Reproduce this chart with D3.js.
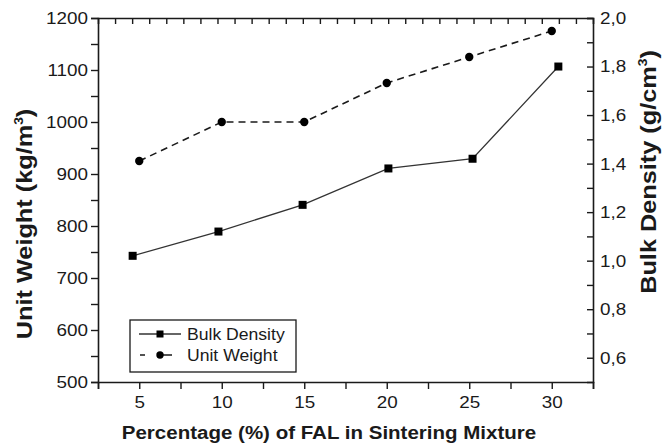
<!DOCTYPE html>
<html>
<head>
<meta charset="utf-8">
<script src="https://cdn.jsdelivr.net/npm/d3@7"></script>
<style>
  html, body { margin: 0; padding: 0; background: #fff; }
  svg { display: block; font-family: "Liberation Sans", Arial, sans-serif; }
</style>
</head>
<body>
<svg id="chart" width="663" height="445"></svg>
<script>
// FAL content in the sintering mixture (%)
const falPercent = [5, 10, 15, 20, 25, 30];
const falPercentBulk = [4.6, 9.8, 14.9, 20.1, 25.2, 30.4];
// Unit weight (kg/m3), left axis
const unitWeight = [925, 1000, 1000, 1075, 1125, 1175];
// Bulk density (g/cm3), right axis
const bulkDensity = [1.02, 1.12, 1.23, 1.38, 1.42, 1.80];

const xTicks = [5, 10, 15, 20, 25, 30];
const leftTicks = [500, 600, 700, 800, 900, 1000, 1100, 1200];
const rightTicks = [0.6, 0.8, 1.0, 1.2, 1.4, 1.6, 1.8, 2.0];

const svg = d3.select("#chart");
const plotL = 98, plotR = 593, plotT = 18, plotB = 382;
const ink = "#1a1a1a";
const wide = 1.11;   // widened label glyphs along the reading direction

const x = d3.scaleLinear().domain([2.5, 32.5]).range([plotL, plotR]);
const yL = d3.scaleLinear().domain([500, 1200]).range([plotB, plotT]);
const yR = d3.scaleLinear().domain([0.5, 2.0]).range([plotB, plotT]);
const xTop = d3.scaleLinear().domain([0, 29]).range([plotL, plotR]);

const comma = d => d3.format(".1f")(d).replace(".", ",");

// bottom axis: outward ticks every 2.5, labels every 5
const gB = svg.append("g").attr("transform", `translate(0,${plotB})`);
gB.call(d3.axisBottom(x).tickValues(d3.range(2.5, 32.51, 2.5)).tickSize(7).tickPadding(7)
  .tickFormat(d => xTicks.includes(d) ? d : ""));
// top axis: inward ticks
const gT = svg.append("g").attr("transform", `translate(0,${plotT})`);
gT.call(d3.axisTop(xTop).tickValues(d3.range(1, 29)).tickSize(-6).tickFormat(""));
// left axis
const gL = svg.append("g").attr("transform", `translate(${plotL},0)`);
gL.call(d3.axisLeft(yL).tickValues(d3.range(500, 1201, 50)).tickSize(7)
  .tickFormat(d => leftTicks.includes(d) ? d : ""));
// right axis: inward ticks
const gR = svg.append("g").attr("transform", `translate(${plotR},0)`);
gR.call(d3.axisRight(yR).tickValues(d3.range(6, 20.1, 1).map(v => v / 10)).tickSize(-6)
  .tickFormat(d => rightTicks.some(t => Math.abs(t - d) < 1e-6) ? comma(d) : ""));

[gB, gT, gL, gR].forEach(g => {
  g.select(".domain").attr("stroke", ink).attr("stroke-width", 1.6);
  g.selectAll(".tick line").attr("stroke", ink).attr("stroke-width", 1.4);
  g.selectAll(".tick text").attr("fill", ink).style("font-size", "17px")
    .attr("transform", `scale(${wide},1)`);
});
gL.selectAll(".tick text").attr("x", -10 / wide);
gR.selectAll(".tick text").attr("x", 7 / wide);

// unit weight: dashed line with circles
const lineUW = d3.line().x((d, i) => x(falPercent[i])).y(d => yL(d));
svg.append("path").datum(unitWeight).attr("d", lineUW)
  .attr("fill", "none").attr("stroke", ink).attr("stroke-width", 1.6).attr("stroke-dasharray", "7,5");
svg.selectAll(".uw").data(unitWeight).join("circle")
  .attr("cx", (d, i) => x(falPercent[i])).attr("cy", d => yL(d)).attr("r", 4.2).attr("fill", "#000");

// bulk density: solid line with squares
const lineBD = d3.line().x((d, i) => x(falPercentBulk[i])).y(d => yR(d));
svg.append("path").datum(bulkDensity).attr("d", lineBD)
  .attr("fill", "none").attr("stroke", "#333").attr("stroke-width", 1.3);
svg.selectAll(".bd").data(bulkDensity).join("rect")
  .attr("x", (d, i) => x(falPercentBulk[i]) - 4).attr("y", d => yR(d) - 4)
  .attr("width", 8).attr("height", 8).attr("fill", "#000");

// axis titles
svg.append("g").attr("transform", "translate(329,439)")
  .append("text").attr("transform", "scale(1.08,1)").attr("text-anchor", "middle")
  .style("font-size", "19px").style("font-weight", "bold").attr("fill", ink)
  .text("Percentage (%) of FAL in Sintering Mixture");

function vTitle(cx, cy, main) {
  const t = svg.append("text").attr("transform", `translate(${cx},${cy}) rotate(-90) scale(1.15,1)`)
    .attr("text-anchor", "middle").style("font-size", "22px").style("font-weight", "bold").attr("fill", ink);
  t.append("tspan").text(main);
  t.append("tspan").attr("dy", -9).style("font-size", "12px").text("3");
  t.append("tspan").attr("dy", 9).text(")");
}
vTitle(32, 224, "Unit Weight (kg/m");
vTitle(656, 172, "Bulk Density (g/cm");

// legend
const lg = svg.append("g");
lg.append("rect").attr("x", 130).attr("y", 320).attr("width", 166).attr("height", 52)
  .attr("fill", "#fff").attr("stroke", ink).attr("stroke-width", 1.3);
lg.append("line").attr("x1", 139).attr("x2", 181).attr("y1", 334).attr("y2", 334)
  .attr("stroke", "#333").attr("stroke-width", 1.3);
lg.append("rect").attr("x", 156.5).attr("y", 330.5).attr("width", 7).attr("height", 7).attr("fill", "#000");
lg.append("line").attr("x1", 140).attr("x2", 181).attr("y1", 355).attr("y2", 355)
  .attr("stroke", ink).attr("stroke-width", 1.6).attr("stroke-dasharray", "5,15,0,1,6,0");
lg.append("circle").attr("cx", 160).attr("cy", 355).attr("r", 3.7).attr("fill", "#000");
[["Bulk Density", 340], ["Unit Weight", 361]].forEach(([label, yy]) => {
  lg.append("g").attr("transform", `translate(187,${yy})`)
    .append("text").attr("transform", "scale(1.1,1)")
    .style("font-size", "16px").attr("fill", ink).text(label);
});
</script>
</body>
</html>
